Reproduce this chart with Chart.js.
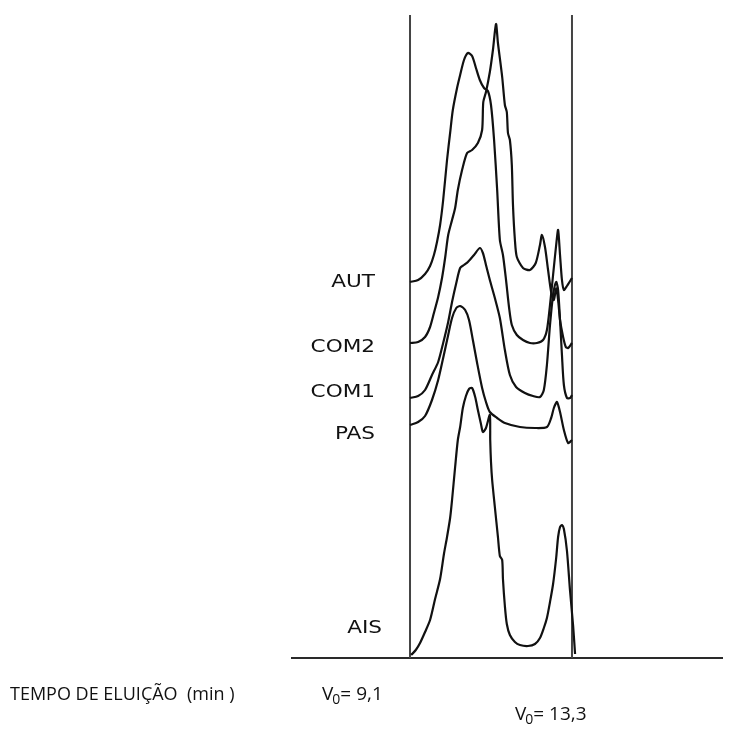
<!DOCTYPE html>
<html>
<head>
<meta charset="utf-8">
<script src="https://cdn.jsdelivr.net/npm/chart.js@4.4.0/dist/chart.umd.min.js"></script>
<style>
  html, body { margin: 0; padding: 0; background: #fff; }
  #wrap { width: 733px; height: 736px; }
</style>
</head>
<body>
<div id="wrap"><canvas id="chart1" width="733" height="736"></canvas></div>
<script>
// tempos de eluição (min) e absorvância (unid. arbitrárias)
const tAUT = [9.10, 9.31, 9.49, 9.62, 9.72, 9.80, 9.88, 9.96, 10.06, 10.14, 10.21, 10.32, 10.40, 10.50, 10.60, 10.71, 10.81, 10.91, 11.02, 11.12, 11.20, 11.28, 11.36, 11.43, 11.51, 11.59, 11.67, 11.74, 11.87, 12.03, 12.21, 12.39, 12.55, 12.65, 12.73, 12.81, 12.89, 12.94, 12.99, 13.04, 13.09, 13.17, 13.30];
const aAUT = [37.6, 37.8, 38.4, 39.2, 40.3, 41.6, 43.3, 45.8, 49.8, 52.5, 54.8, 57.0, 58.3, 59.8, 60.5, 60.2, 59.0, 57.8, 57.0, 56.7, 55.3, 51.8, 46.8, 41.8, 40.3, 37.8, 35.0, 33.3, 32.3, 31.8, 31.5, 31.5, 31.8, 32.8, 35.3, 38.3, 41.3, 42.8, 40.3, 37.8, 36.8, 37.2, 38.0];

const tCOM2 = [9.10, 9.31, 9.49, 9.62, 9.72, 9.83, 9.93, 10.01, 10.09, 10.19, 10.27, 10.34, 10.45, 10.58, 10.71, 10.86, 10.97, 11.00, 11.07, 11.17, 11.25, 11.33, 11.38, 11.49, 11.56, 11.61, 11.64, 11.69, 11.74, 11.77, 11.82, 11.87, 12.03, 12.21, 12.36, 12.47, 12.52, 12.60, 12.68, 12.76, 12.83, 12.89, 12.94, 12.99, 13.07, 13.14, 13.20, 13.30];
const aCOM2 = [31.5, 31.6, 32.1, 33.1, 34.5, 36.1, 38.0, 40.0, 42.3, 43.8, 45.0, 46.8, 48.8, 50.5, 50.8, 51.5, 52.8, 55.6, 56.6, 58.6, 60.8, 63.4, 61.5, 58.1, 55.3, 54.6, 52.5, 51.8, 49.3, 45.3, 41.8, 40.1, 39.0, 38.8, 39.5, 41.3, 42.3, 41.1, 38.8, 36.6, 35.8, 37.0, 35.8, 33.8, 32.1, 31.1, 31.0, 31.5];

const tCOM1 = [9.10, 9.31, 9.49, 9.67, 9.83, 9.96, 10.09, 10.19, 10.30, 10.40, 10.50, 10.60, 10.76, 10.91, 10.99, 11.07, 11.17, 11.30, 11.43, 11.56, 11.69, 11.85, 12.08, 12.29, 12.47, 12.57, 12.65, 12.73, 12.81, 12.89, 12.94, 12.99, 13.04, 13.09, 13.17, 13.25, 13.30];
const aCOM1 = [26.0, 26.2, 26.8, 28.3, 29.6, 31.5, 33.6, 35.6, 37.5, 39.0, 39.3, 39.6, 40.3, 41.0, 40.5, 39.3, 37.8, 36.0, 34.0, 30.8, 28.3, 27.1, 26.5, 26.2, 26.1, 26.8, 29.3, 33.3, 36.3, 37.6, 36.8, 33.8, 30.3, 27.3, 26.0, 26.0, 26.3];

const tPAS = [9.10, 9.31, 9.49, 9.67, 9.83, 9.96, 10.09, 10.19, 10.30, 10.40, 10.53, 10.63, 10.73, 10.84, 10.97, 11.07, 11.17, 11.36, 11.56, 11.95, 12.34, 12.65, 12.76, 12.83, 12.91, 12.99, 13.09, 13.20, 13.30];
const aPAS = [23.3, 23.6, 24.2, 25.8, 27.8, 30.0, 32.3, 34.0, 35.0, 35.2, 34.8, 33.8, 31.8, 29.5, 27.0, 25.6, 24.6, 24.0, 23.5, 23.1, 23.0, 23.1, 24.0, 25.0, 25.6, 24.6, 22.8, 21.5, 21.8];

const tAIS = [9.13, 9.25, 9.36, 9.49, 9.62, 9.75, 9.88, 9.98, 10.06, 10.14, 10.19, 10.27, 10.34, 10.40, 10.47, 10.55, 10.63, 10.71, 10.79, 10.86, 10.94, 10.99, 11.07, 11.17, 11.18, 11.20, 11.23, 11.30, 11.38, 11.43, 11.49, 11.51, 11.56, 11.61, 11.69, 11.82, 11.95, 12.16, 12.34, 12.47, 12.57, 12.65, 12.73, 12.81, 12.89, 12.94, 12.99, 13.04, 13.09, 13.17, 13.25, 13.33, 13.38];
const aAIS = [0.3, 0.8, 1.5, 2.6, 3.8, 5.9, 7.9, 10.4, 12.1, 14.0, 15.8, 19.1, 21.8, 23.1, 25.0, 26.2, 26.9, 27.0, 26.1, 24.8, 23.4, 22.6, 23.0, 24.3, 21.8, 19.6, 17.8, 15.1, 12.1, 10.2, 9.8, 7.9, 5.2, 3.4, 2.3, 1.6, 1.3, 1.2, 1.4, 2.0, 3.0, 4.0, 5.6, 7.4, 10.0, 12.1, 13.1, 13.3, 12.9, 10.7, 6.7, 3.2, 0.4];

const seriesNames = ['AUT', 'COM2', 'COM1', 'PAS', 'AIS'];
const labelLevels = [37.6, 31.1, 26.6, 22.4, 3.0];   // altura de cada rótulo
const v0Values = [9.1, 13.3];                        // linhas verticais V0
const xMin = 6.04, xMax = 17.19, yMax = 64.3;

function toPoints(t, a) {
    return t.map((x, i) => ({ x: x, y: a[i] }));
}

const curves = [[tAUT, aAUT], [tCOM2, aCOM2], [tCOM1, aCOM1], [tPAS, aPAS], [tAIS, aAIS]];

const datasets = curves.map((c, i) => ({
    label: seriesNames[i],
    data: toPoints(c[0], c[1]),
    showLine: true,
    borderColor: '#111',
    borderWidth: 2.2,
    pointRadius: 0,
    tension: 0.25
}));

v0Values.forEach(v => {
    datasets.push({
        label: 'V0 ' + v,
        data: [{ x: v, y: 0 }, { x: v, y: yMax }],
        showLine: true,
        borderColor: '#444',
        borderWidth: 2,
        pointRadius: 0
    });
});

// rótulos das amostras e do eixo
const labelsPlugin = {
    id: 'labelsPlugin',
    afterDraw(chart) {
        const ctx = chart.ctx;
        const xs = chart.scales.x, ys = chart.scales.y;
        const xLeft = xs.getPixelForValue(v0Values[0]);

        ctx.save();
        ctx.fillStyle = '#111';
        ctx.textBaseline = 'middle';
        ctx.font = '18px "DejaVu Sans"';
        seriesNames.forEach((name, i) => {
            const right = i === 4 ? xLeft - 28 : xLeft - 35;
            const w = ctx.measureText(name).width * 1.2;
            ctx.save();
            ctx.translate(right - w, ys.getPixelForValue(labelLevels[i]));
            ctx.scale(1.2, 1);
            ctx.textAlign = 'left';
            ctx.fillText(name, 0, 0);
            ctx.restore();
        });

        // texto do eixo de baixo
        ctx.font = '18px "Open Sans"';
        ctx.textAlign = 'left';
        ctx.textBaseline = 'alphabetic';
        ctx.fillText('TEMPO DE ELUIÇÃO  (min )', 10, 700);

        drawV0(ctx, xLeft - 88, 700, v0Values[0]);
        drawV0(ctx, xs.getPixelForValue(v0Values[1]) - 57, 720, v0Values[1]);
        ctx.restore();
    }
};

function drawV0(ctx, x, y, val) {
    ctx.font = '19px "Open Sans"';
    ctx.fillText('V', x, y);
    let w = ctx.measureText('V').width;
    ctx.font = '14px "Open Sans"';
    ctx.fillText('0', x + w - 1, y + 4);
    w += ctx.measureText('0').width - 1;
    ctx.font = '19px "Open Sans"';
    ctx.fillText('= ' + String(val).replace('.', ','), x + w, y);
}

new Chart(document.getElementById('chart1').getContext('2d'), {
    type: 'scatter',
    data: { datasets: datasets },
    options: {
        responsive: false,
        animation: false,
        devicePixelRatio: 1,
        layout: { padding: { left: 292, right: 11, top: 15, bottom: 70 } },
        plugins: { legend: { display: false }, tooltip: { enabled: false } },
        scales: {
            x: {
                type: 'linear', min: xMin, max: xMax,
                grid: { display: false },
                ticks: { display: false },
                border: { display: true, color: '#2a2a2a', width: 2 }
            },
            y: { min: 0, max: yMax, display: false }
        }
    },
    plugins: [labelsPlugin]
});
</script>
</body>
</html>
